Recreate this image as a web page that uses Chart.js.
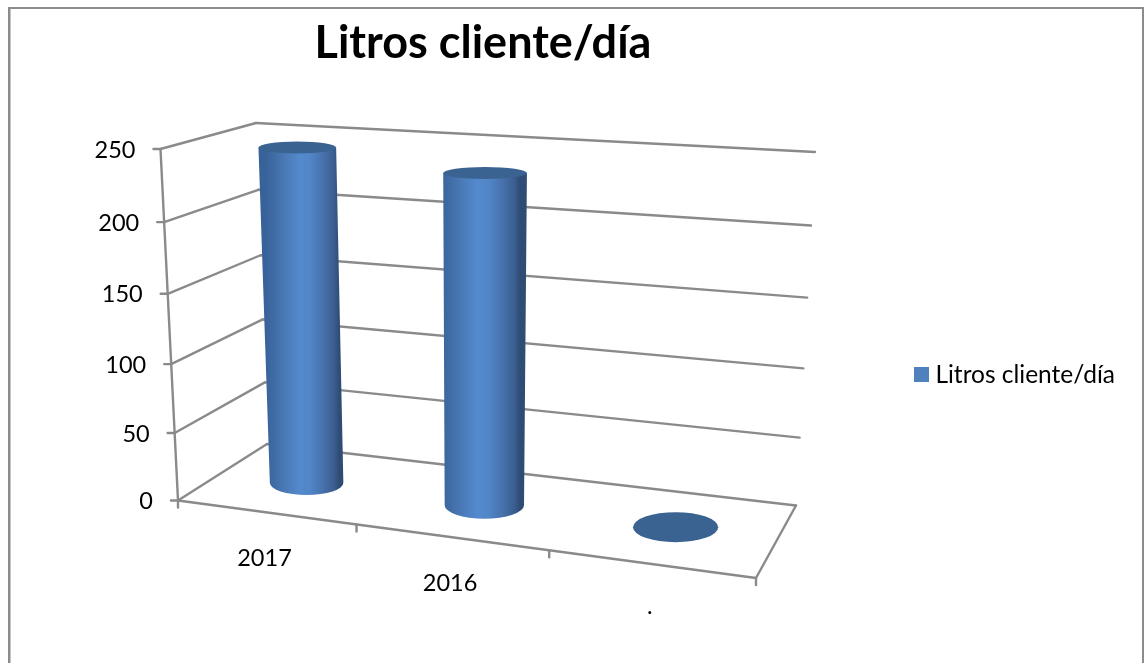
<!DOCTYPE html>
<html><head><meta charset="utf-8">
<style>html,body{margin:0;padding:0;background:#fff}canvas{display:block}</style>
<script src="https://cdn.jsdelivr.net/npm/chart.js@4"></script>
</head><body><canvas id="c" width="1146" height="663"></canvas>
<script>
const categories = ['2017', '2016', '.'];
const litros = [247, 240, 0];
const seriesName = 'Litros cliente/día';
const titleText = 'Litros cliente/día';
const yTickStep = 50;
const yMax = 250;

const LINE = '#8a8a8a';
const FONT = 'Lato';
const SERIES_COLOR = '#4F81BD';
// perspective box: front/back, bottom/top, left/right
const box = {
  fbl:[178,500.5], fbr:[756,578], bbl:[267,444], bbr:[796,505.5],
  ftl:[160.5,149], ftr:[772,215], btl:[256,123], btr:[815,152]
};
const lerp=(a,b,t)=>[a[0]+(b[0]-a[0])*t,a[1]+(b[1]-a[1])*t];
const uW=u=>u-0.11*u*(1-u), vW=v=>v-0.05*v*(1-v);
function project(u,v,d){
  u=uW(u); v=vW(v);
  const fb=lerp(box.fbl,box.fbr,u), bb=lerp(box.bbl,box.bbr,u),
        ft=lerp(box.ftl,box.ftr,u), bt=lerp(box.btl,box.btr,u);
  return lerp(lerp(fb,bb,d),lerp(ft,bt,d),v);
}
const flat=(chart,px,py)=>{const a=chart.chartArea;return [(px-a.left)/(a.right-a.left),(a.bottom-py)/(a.bottom-a.top)];};
const discRy=y=>6+9*Math.pow(Math.max(0,(y-147)/380),3);

const legendSwatch=document.createElement('canvas');
legendSwatch.width=15;legendSwatch.height=15;
(function(){const g=legendSwatch.getContext('2d');g.fillStyle=SERIES_COLOR;g.fillRect(0,0,15,15);})();

const perspective3D={
  id:'perspective3D',
  afterLayout(chart){
    const t=chart.titleBlock; t.left=0; t.right=966;
  },
  beforeDraw(chart){
    const ctx=chart.ctx;
    ctx.save();ctx.fillStyle='#8c8c8c';
    ctx.fillRect(8,7,1136,2);ctx.fillRect(8,7,2.5,chart.height);ctx.fillRect(1142,7,2,chart.height);
    ctx.restore();
    const ys=chart.scales.y,xs=chart.scales.x;
    ys.getLabelItems().forEach((it,i)=>{
      const v=flat(chart,0,ys.getPixelForTick(i))[1];
      const p=project(0,v,0);
      it.options.textAlign='right';it.options.textBaseline='middle';it.textOffset=0;
      it.options.translation=[p[0]-25,p[1]+1];
    });
    xs.getLabelItems().forEach((it,i)=>{
      const u=flat(chart,xs.getPixelForTick(i),0)[0];
      const p=project(u,0,0);
      it.options.textAlign='center';it.options.textBaseline='middle';it.textOffset=0;
      it.options.translation=[p[0]-1,p[1]+(categories[i]==='.'?43:46)];
    });
  },
  beforeDatasetsDraw(chart){
    const ctx=chart.ctx,ys=chart.scales.y;
    const seg=(a,b)=>{ctx.beginPath();ctx.moveTo(a[0],a[1]);ctx.lineTo(b[0],b[1]);ctx.stroke();};
    ctx.save();ctx.strokeStyle=LINE;ctx.lineCap='round';ctx.lineWidth=2.4;
    ys.ticks.forEach((t,i)=>{
      const v=flat(chart,0,ys.getPixelForTick(i))[1];
      const f=project(0,v,0),b=project(0,v,1),r=project(1,v,1);
      seg([f[0]-7,f[1]],f);seg(f,b);seg(b,r);
    });
    seg(project(0,1,0),project(0,0,0));
    const f0=project(0,0,0),f1=project(1,0,0);
    seg(f0,f1);seg(f1,project(1,0,1));
    const n=categories.length;
    for(let i=0;i<=n;i++){
      const p=project(i/n,0,0);seg(p,[p[0],p[1]+7]);
    }
    ctx.restore();
  },
  beforeDatasetDraw(chart,args){
    const ctx=chart.ctx,meta=args.meta;
    meta.data.forEach(el=>{
      const [ul,vt]=flat(chart,el.x-el.width/2,el.y);
      const [ur,vb]=flat(chart,el.x+el.width/2,el.base);
      const tl=project(ul,vt,.5),tr=project(ur,vt,.5),bl=project(ul,vb,.5),br=project(ur,vb,.5);
      const tc=[(tl[0]+tr[0])/2,(tl[1]+tr[1])/2],bc=[(bl[0]+br[0])/2,(bl[1]+br[1])/2];
      const trx=(tr[0]-tl[0])/2,brx=(br[0]-bl[0])/2;
      ctx.save();
      if(vt-vb>0.001){
        const g=ctx.createLinearGradient(bl[0]-4,0,br[0]-4,0);
        [[0,'#38629A'],[.2,'#4674AE'],[.45,'#5489CE'],[.6,'#5186C8'],[.8,'#466FA8'],[.93,'#3A5E90'],[1,'#2E4C74']]
          .forEach(s=>g.addColorStop(s[0],s[1]));
        ctx.fillStyle=g;
        ctx.beginPath();
        ctx.moveTo(tc[0]-trx,tc[1]);
        ctx.lineTo(bc[0]-brx,bc[1]);
        ctx.ellipse(bc[0],bc[1],brx,discRy(bc[1]),0,Math.PI,0,true);
        ctx.lineTo(tc[0]+trx,tc[1]);
        ctx.closePath();ctx.fill();
      }
      ctx.fillStyle='#3B6391';
      ctx.beginPath();
      const cy=vt-vb>0.001?tc[1]:tc[1]-2;
      ctx.ellipse(tc[0],cy,trx,discRy(cy),0,0,Math.PI*2);
      ctx.fill();
      ctx.restore();
    });
    return false;
  }
};

new Chart(document.getElementById('c'),{
  type:'bar',
  data:{labels:categories,datasets:[{label:seriesName,data:litros,backgroundColor:SERIES_COLOR,borderWidth:0,barPercentage:.43,categoryPercentage:1}]},
  plugins:[perspective3D],
  options:{
    responsive:false,animation:false,
    layout:{padding:{right:21,bottom:9,left:0,top:0}},
    plugins:{
      tooltip:{enabled:false},
      title:{display:true,text:titleText,color:'#000',font:{family:FONT,size:45,weight:'bold'},padding:{top:16,bottom:34}},
      legend:{position:'right',align:'center',fullSize:false,labels:{color:'#000',font:{family:FONT,size:24.5},usePointStyle:true,pointStyle:legendSwatch,boxWidth:4,boxHeight:15,padding:10}}
    },
    scales:{
      x:{afterFit(s){s.height=0;},grid:{display:false},border:{display:false},ticks:{mirror:true,color:'#000',font:{family:FONT,size:23.5},autoSkip:false,maxRotation:0}},
      y:{min:0,max:yMax,grid:{display:false},border:{display:false},ticks:{mirror:true,stepSize:yTickStep,color:'#000',font:{family:FONT,size:23.5}}}
    }
  }
});
</script></body></html>
